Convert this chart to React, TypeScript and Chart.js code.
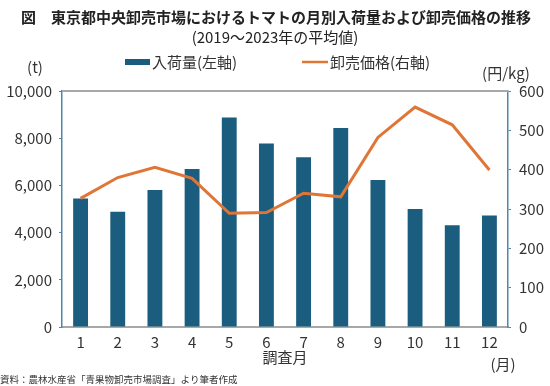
import React, { useEffect, useRef } from 'react';
import { Chart, registerables } from 'chart.js';

Chart.register(...registerables);

const FONT = '"Noto Sans CJK JP", "Noto Sans", sans-serif';

const months = ['1', '2', '3', '4', '5', '6', '7', '8', '9', '10', '11', '12'];
const arrivals = [5450, 4880, 5800, 6700, 8880, 7780, 7190, 8430, 6230, 5000, 4310, 4720];
const prices = [327, 380, 406, 378, 289, 291, 340, 331, 482, 559, 514, 399];
const leftMax = 10000;
const leftStep = 2000;
const rightMax = 600;
const rightStep = 100;

const titleLines = [
  '図　東京都中央卸売市場におけるトマトの月別入荷量および卸売価格の推移',
  '(2019〜2023年の平均値)',
];
const seriesNames = ['入荷量(左軸)', '卸売価格(右軸)'];
const leftUnit = '(t)';
const rightUnit = '(円/kg)';
const xTitle = '調査月';
const xUnit = '(月)';
const sourceNote = '資料：農林水産省「青果物卸売市場調査」より筆者作成';

const BAR = '#1a5d7e';
const LINE = '#e07636';
const AXIS_BLUE = '#4f87a8';
const AXIS_GRAY = '#a8a8a8';
const TEXT = '#333333';

const decorPlugin = {
  id: 'decor',
  afterDraw(chart: any) {
    const { ctx, chartArea } = chart;
    ctx.save();
    // top frame line
    ctx.strokeStyle = AXIS_GRAY;
    ctx.lineWidth = 2;
    ctx.beginPath();
    ctx.moveTo(chartArea.left, chartArea.top);
    ctx.lineTo(chartArea.right, chartArea.top);
    ctx.stroke();

    ctx.textBaseline = 'middle';
    // title
    ctx.fillStyle = '#222';
    ctx.textAlign = 'center';
    ctx.font = `bold 15px ${FONT}`;
    ctx.fillText(titleLines[0], 276, 17);
    ctx.font = `15px ${FONT}`;
    ctx.fillText(titleLines[1], 275, 37);

    // legend
    ctx.font = `15px ${FONT}`;
    ctx.textAlign = 'left';
    ctx.fillStyle = BAR;
    ctx.fillRect(125, 59, 25, 6);
    ctx.fillStyle = TEXT;
    ctx.fillText(seriesNames[0], 152, 62);
    ctx.strokeStyle = LINE;
    ctx.lineWidth = 2.5;
    ctx.beginPath();
    ctx.moveTo(302, 62);
    ctx.lineTo(328, 62);
    ctx.stroke();
    ctx.fillText(seriesNames[1], 330, 62);

    // units
    ctx.textAlign = 'center';
    ctx.font = `15px ${FONT}`;
    ctx.fillText(leftUnit, 35, 67);
    ctx.fillText(rightUnit, 506, 73);

    // x axis title & unit
    ctx.fillText(xTitle, (chartArea.left + chartArea.right) / 2, 357);
    ctx.fillText(xUnit, 503, 364);

    // source
    ctx.textAlign = 'left';
    ctx.font = `9.5px ${FONT}`;
    ctx.fillText(sourceNote, 0, 379);
    ctx.restore();
  },
};

export default function App() {
  const ref = useRef<HTMLCanvasElement | null>(null);

  useEffect(() => {
    if (!ref.current) return;
    const chart = new Chart(ref.current, {
      type: 'bar',
      data: {
        labels: months,
        datasets: [
          {
            type: 'line',
            label: seriesNames[1],
            data: prices,
            yAxisID: 'y1',
            borderColor: LINE,
            backgroundColor: LINE,
            borderWidth: 3,
            pointRadius: 0,
            tension: 0,
            order: 0,
          } as any,
          {
            type: 'bar',
            label: seriesNames[0],
            data: arrivals,
            yAxisID: 'y',
            backgroundColor: BAR,
            barPercentage: 0.4,
            categoryPercentage: 1,
            order: 1,
          },
        ],
      },
      options: {
        animation: false,
        responsive: true,
        maintainAspectRatio: false,
        layout: { padding: { top: 91, left: 0, right: 0, bottom: 0 } },
        plugins: {
          legend: { display: false },
          title: { display: false },
          tooltip: { enabled: false },
        },
        scales: {
          x: {
            type: 'category',
            offset: true,
            grid: { display: false, drawTicks: false },
            border: { display: true, color: AXIS_GRAY, width: 2 },
            ticks: { color: TEXT, font: { family: FONT, size: 15 }, padding: 6 },
            afterFit: (s: any) => { s.height = 59; },
          },
          y: {
            position: 'left',
            min: 0,
            max: leftMax,
            ticks: {
              stepSize: leftStep,
              color: TEXT,
              font: { family: FONT, size: 15 },
              padding: 7,
              callback: (v: any) => Number(v).toLocaleString('en-US'),
            },
            grid: { drawOnChartArea: false, drawTicks: true, tickLength: 3, color: AXIS_BLUE },
            border: { display: true, color: AXIS_BLUE, width: 1.5 },
            afterFit: (s: any) => { s.width = 62; },
          },
          y1: {
            position: 'right',
            min: 0,
            max: rightMax,
            ticks: {
              stepSize: rightStep,
              color: TEXT,
              font: { family: FONT, size: 15 },
              padding: 8,
            },
            grid: { drawOnChartArea: false, drawTicks: true, tickLength: 3, color: AXIS_BLUE },
            border: { display: true, color: AXIS_BLUE, width: 1.5 },
            afterFit: (s: any) => { s.width = 42; },
          },
        },
      },
      plugins: [decorPlugin],
    });
    return () => chart.destroy();
  }, []);

  return (
    <div style={{ position: 'fixed', left: 0, top: 0, width: 550, height: 386, background: '#fff' }}>
      <canvas ref={ref} />
    </div>
  );
}
